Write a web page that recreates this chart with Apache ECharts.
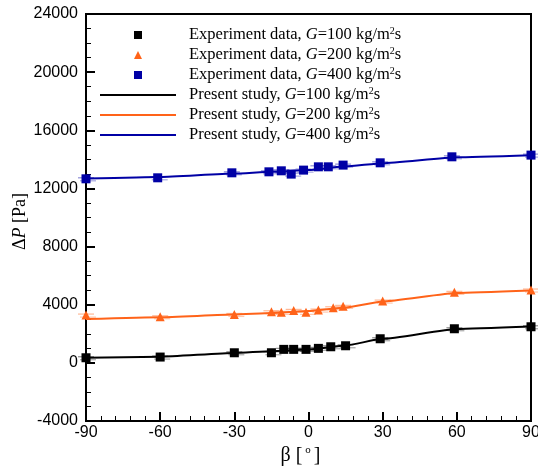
<!DOCTYPE html>
<html>
<head>
<meta charset="utf-8">
<script src="https://cdn.jsdelivr.net/npm/echarts@6/dist/echarts.min.js"></script>
<style>
html,body{margin:0;padding:0;background:#fff;}
#chart{width:538px;height:475px;}
</style>
</head>
<body>
<div id="chart"></div>
<script>
// Experimental data (beta in degrees, dP in Pa)
var expBeta100 = [-90, -60, -30, -15, -10, -6, -1, 4, 9, 15, 29, 59, 90];
var expDP100   = [351, 399, 694, 695, 928, 928, 928, 997, 1107, 1176, 1658, 2346, 2483];
var expBeta200 = [-90, -60, -30, -15, -11, -6, -1, 4, 10, 14, 30, 59, 90];
var expDP200   = [3287, 3170, 3330, 3514, 3473, 3610, 3473, 3631, 3790, 3886, 4250, 4850, 5010];
var expBeta400 = [-90, -61, -31, -16, -11, -7, -2, 4, 8, 14, 29, 58, 90];
var expDP400   = [12662, 12731, 13074, 13143, 13212, 12985, 13260, 13487, 13487, 13604, 13762, 14175, 14292];

// Present study (model) curves
var modelBeta  = [-90, -60, -30, -15, 0, 15, 30, 60, 90];
var modelDP100 = [350, 420, 680, 800, 920, 1200, 1650, 2330, 2500];
var modelDP200 = [3010, 3140, 3320, 3430, 3560, 3800, 4220, 4800, 4970];
var modelDP400 = [12680, 12790, 13020, 13140, 13260, 13520, 13740, 14150, 14290];

// Axis ticks
var xTicks = {min: -90, max: 90, interval: 30};
var yTicks = {min: -4000, max: 24000, interval: 4000};

var names = [
  'Experiment data, G=100 kg/m2s',
  'Experiment data, G=200 kg/m2s',
  'Experiment data, G=400 kg/m2s',
  'Present study, G=100 kg/m2s',
  'Present study, G=200 kg/m2s',
  'Present study, G=400 kg/m2s'
];
var colors = ['#000000', '#FF6319', '#0000A5'];

function zip(a, b) { return a.map(function (v, i) { return [v, b[i]]; }); }

function legendFmt(n) {
  var m = n.match(/^(.*), G=(\d+) kg\/m2s$/);
  return m[1] + ', {i|G}=' + m[2] + ' kg/m{s|2}s';
}
var LF = 16.5;
var richText = {
  i: {fontStyle: 'italic', fontFamily: 'Liberation Serif', fontSize: LF, color: '#000'},
  s: {fontFamily: 'Liberation Serif', fontSize: 10, color: '#000', padding: [0, 0, 8, 0]}
};

function errBar(color) {
  return function (params, api) {
    var p = api.coord([api.value(0), api.value(1)]);
    return {
      type: 'group',
      children: [
        {type: 'line', shape: {x1: p[0] - 8, y1: p[1] - 1, x2: p[0] + 8, y2: p[1] - 1},
         style: {stroke: color, lineWidth: 1.2, opacity: 0.45}},
        {type: 'line', shape: {x1: p[0] - 6, y1: p[1] + 2, x2: p[0] + 10, y2: p[1] + 2},
         style: {stroke: color, lineWidth: 1.2, opacity: 0.35}}
      ]
    };
  };
}

var expSets = [[expBeta100, expDP100], [expBeta200, expDP200], [expBeta400, expDP400]];
var modelSets = [modelDP100, modelDP200, modelDP400];
var symbols = ['rect', 'triangle', 'rect'];

var series = [];
for (var k = 0; k < 3; k++) {
  series.push({
    type: 'custom', silent: true, z: 1,
    renderItem: errBar(colors[k]),
    data: zip(expSets[k][0], expSets[k][1])
  });
}
for (var k = 0; k < 3; k++) {
  series.push({
    name: names[3 + k], type: 'line', smooth: 0.15, smoothMonotone: 'x', showSymbol: false, symbol: 'none', z: 2,
    lineStyle: {color: colors[k], width: 2}, itemStyle: {color: colors[k]},
    data: zip(modelBeta, modelSets[k])
  });
}
for (var k = 0; k < 3; k++) {
  series.push({
    name: names[k], type: 'scatter', symbol: symbols[k], symbolSize: 9, z: 3,
    itemStyle: {color: colors[k], opacity: 1},
    data: zip(expSets[k][0], expSets[k][1])
  });
}

var axisFont = {fontFamily: 'Liberation Sans', fontSize: 16, color: '#000'};

var option = {
  animation: false,
  backgroundColor: '#fff',
  grid: {left: 86, right: 7, top: 14, bottom: 54, containLabel: false, outerBoundsMode: 'none',
         show: true, borderColor: '#000', borderWidth: 2, backgroundColor: 'transparent'},
  legend: [
    {
      data: names.slice(0, 3), orient: 'vertical', left: 134, top: 25, padding: 0,
      itemWidth: 8, itemHeight: 8, itemGap: 0, selectedMode: false,
      formatter: legendFmt,
      textStyle: {fontFamily: 'Liberation Serif', fontSize: LF, color: '#000', lineHeight: 20, padding: [0, 0, 0, 42], rich: richText}
    },
    {
      data: names.slice(3), orient: 'vertical', left: 100, top: 85, padding: 0,
      icon: 'rect', itemWidth: 76, itemHeight: 2, itemGap: 0, selectedMode: false,
      formatter: legendFmt,
      textStyle: {fontFamily: 'Liberation Serif', fontSize: LF, color: '#000', lineHeight: 20, padding: [0, 0, 0, 8], rich: richText}
    }
  ],
  xAxis: {
    type: 'value', min: xTicks.min, max: xTicks.max, interval: xTicks.interval,
    name: 'β [{s|o}]', nameLocation: 'middle', nameGap: 24, nameMoveOverlap: false,
    nameTextStyle: {fontFamily: 'Liberation Serif', fontSize: 20, color: '#000', padding: [0, 16, 0, 0],
      rich: {s: {fontFamily: 'Liberation Serif', fontSize: 11, color: '#000', padding: [0, 3, 10, 3]}}},
    axisLine: {onZero: false, lineStyle: {color: '#000', width: 2}},
    axisTick: {inside: true, length: 9, lineStyle: {color: '#000', width: 2}},
    minorTick: {show: true, splitNumber: 5, length: 5, lineStyle: {color: '#000', width: 1}},
    axisLabel: Object.assign({margin: 4, formatter: function (v) { return String(v); }}, axisFont),
    splitLine: {show: false}
  },
  yAxis: {
    type: 'value', min: yTicks.min, max: yTicks.max, interval: yTicks.interval,
    name: 'Δ{i|P} [Pa]{g|}', nameLocation: 'middle', nameGap: 57, nameMoveOverlap: false,
    nameTextStyle: {fontFamily: 'Liberation Serif', fontSize: 18, color: '#000',
      rich: {
        i: {fontStyle: 'italic', fontFamily: 'Liberation Serif', fontSize: 18, color: '#000'},
        g: {width: 8, fontSize: 18}
      }},
    axisLine: {onZero: false, lineStyle: {color: '#000', width: 2}},
    axisTick: {inside: true, length: 9, lineStyle: {color: '#000', width: 2}},
    minorTick: {show: true, splitNumber: 4, length: 5, lineStyle: {color: '#000', width: 1}},
    axisLabel: Object.assign({margin: 8, formatter: function (v) { return String(v); }}, axisFont),
    splitLine: {show: false}
  },
  series: series
};

var chart = echarts.init(document.getElementById('chart'), null, {renderer: 'canvas'});
chart.setOption(option);
</script>
</body>
</html>
